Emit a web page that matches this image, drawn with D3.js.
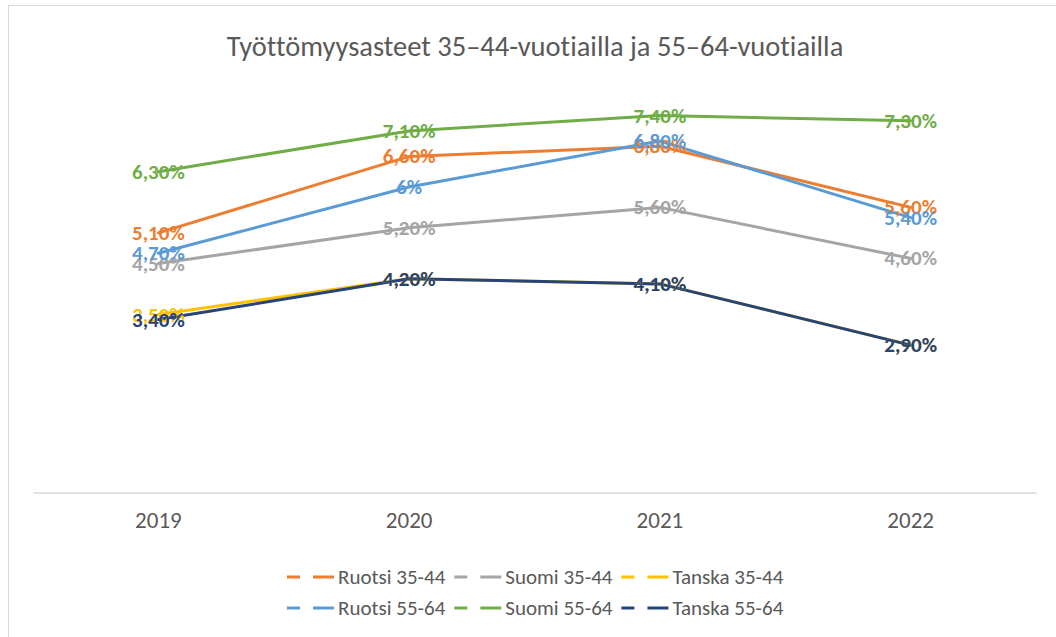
<!DOCTYPE html>
<html lang="fi">
  <head>
    <meta charset="utf-8">
    <title>Työttömyysasteet</title>
    <script src="https://d3js.org/d3.v7.js"></script>
    <style>
      body { margin: 0; background: white; }
      * { font-family: Carlito, Lato, sans-serif; font-variant-ligatures: none; }
    </style>
  </head>
  <body>
    <script type="text/javascript">

      // data
      const years = ["2019", "2020", "2021", "2022"];
      const seriesNames = ["Ruotsi 35-44", "Suomi 35-44", "Tanska 35-44",
                           "Ruotsi 55-64", "Suomi 55-64", "Tanska 55-64"];
      const seriesColors = ["#ED7D31", "#A5A5A5", "#FFC000", "#5B9BD5", "#70AD47", "#264478"];
      const ruotsi3544 = [5.1, 6.6, 6.8, 5.6];
      const suomi3544 = [4.5, 5.2, 5.6, 4.6];
      const tanska3544 = [3.5, 4.2, 4.1, 2.9];
      const ruotsi5564 = [4.7, 6.0, 6.9, 5.4];
      const suomi5564 = [6.3, 7.1, 7.4, 7.3];
      const tanska5564 = [3.4, 4.2, 4.1, 2.9];
      const labels3544 = [
        ["5,10%", "6,60%", "6,80%", "5,60%"],
        ["4,50%", "5,20%", "5,60%", "4,60%"],
        ["3,50%", "4,20%", "4,10%", "2,90%"]
      ];
      const labels5564 = [
        ["4,70%", "6%", "6,80%", "5,40%"],
        ["6,30%", "7,10%", "7,40%", "7,30%"],
        ["3,40%", "4,20%", "4,10%", "2,90%"]
      ];
      const title = "Työttömyysasteet 35–44-vuotiailla ja 55–64-vuotiailla";

      const allValues = [ruotsi3544, suomi3544, tanska3544, ruotsi5564, suomi5564, tanska5564];
      const allLabels = labels3544.concat(labels5564);
      const series = seriesNames.map((name, i) => ({
        name: name,
        color: seriesColors[i],
        values: allValues[i].map((v, j) => ({year: years[j], value: v, label: allLabels[i][j]}))
      }));

      const w = 1056;
      const h = 637;

      const svg = d3.select("body")
        .append("svg")
        .attr("width", w)
        .attr("height", h);

      // chart area border
      svg.append("rect")
        .attr("x", 8.5)
        .attr("y", 5.5)
        .attr("width", w + 20)
        .attr("height", h + 20)
        .attr("fill", "white")
        .attr("stroke", "#d9d9d9");

      // scales
      const xScale = d3.scaleBand()
        .domain(years)
        .range([33, 1036]);

      const yScale = d3.scaleLinear()
        .domain([0, 8])
        .range([493, 85]);

      // title
      svg.append("text")
        .attr("x", 535)
        .attr("y", 46)
        .attr("text-anchor", "middle")
        .attr("dominant-baseline", "central")
        .attr("fill", "#595959")
        .style("font-size", "28.5px")
        .text(title);

      // x axis
      const xAxis = d3.axisBottom(xScale).tickSize(0).tickPadding(19);
      const gx = svg.append("g")
        .attr("id", "xaxis")
        .attr("transform", `translate(0, ${yScale(0) - 0.5})`)
        .call(xAxis);
      gx.select(".domain").attr("stroke", "#d9d9d9").attr("stroke-width", 1.5);
      gx.selectAll("text")
        .attr("fill", "#595959")
        .style("font-size", "23px");

      // lines
      const line = d3.line()
        .x(d => xScale(d.year) + xScale.bandwidth() / 2)
        .y(d => yScale(d.value));

      svg.append("g")
        .attr("id", "lines")
        .selectAll("path")
        .data(series)
        .enter()
        .append("path")
        .attr("d", d => line(d.values))
        .attr("fill", "none")
        .attr("stroke", d => d.color)
        .attr("stroke-width", 3)
        .attr("stroke-linejoin", "round")
        .attr("stroke-linecap", "round");

      // data labels
      series.forEach(s => {
        svg.append("g")
          .selectAll("text")
          .data(s.values)
          .enter()
          .append("text")
          .attr("x", d => xScale(d.year) + xScale.bandwidth() / 2)
          .attr("y", d => yScale(d.value))
          .attr("text-anchor", "middle")
          .attr("dominant-baseline", "central")
          .attr("fill", s.color)
          .style("font-size", "21px")
          .style("font-weight", "bold")
          .text(d => d.label);
      });

      // legend
      const legendRows = [seriesNames.slice(0, 3), seriesNames.slice(3)];
      const rowY = [577, 608];
      legendRows.forEach((row, r) => {
        let x = 287;
        row.forEach(name => {
          const i = seriesNames.indexOf(name);
          const g = svg.append("g").attr("transform", `translate(${x}, ${rowY[r]})`);
          g.append("line")
            .attr("x1", 0).attr("x2", 13).attr("y1", 0).attr("y2", 0)
            .attr("stroke", seriesColors[i]).attr("stroke-width", 3);
          g.append("line")
            .attr("x1", 26).attr("x2", 47).attr("y1", 0).attr("y2", 0)
            .attr("stroke", seriesColors[i]).attr("stroke-width", 3);
          const t = g.append("text")
            .attr("x", 51)
            .attr("y", 0)
            .attr("dominant-baseline", "central")
            .attr("fill", "#595959")
            .style("font-size", "21px")
            .text(name);
          x += 51 + t.node().getComputedTextLength() + 9;
        });
      });

    </script>
  </body>
</html>
